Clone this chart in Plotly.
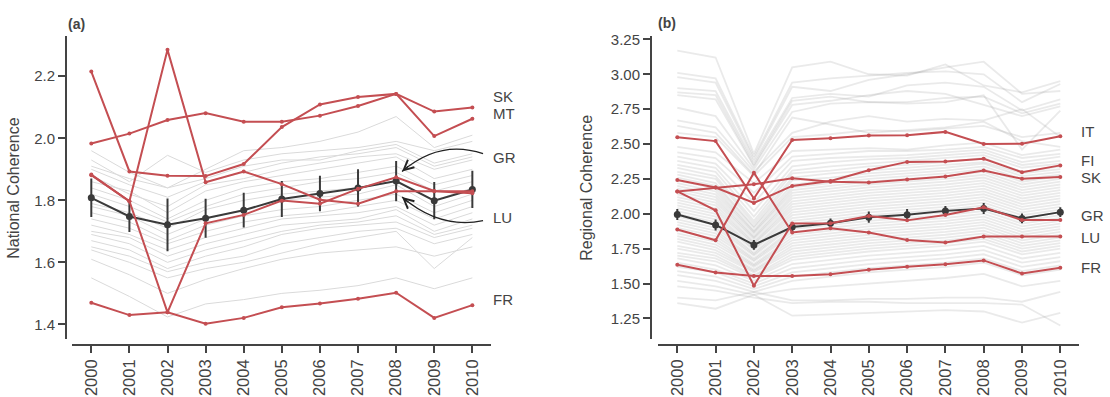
import plotly.graph_objects as go

# ---------------- data ----------------
years = list(range(2000, 2011))
year_labels = [str(y) for y in years]

# (a) national coherence
nat_mean = [1.808, 1.748, 1.721, 1.742, 1.768, 1.804, 1.822, 1.840, 1.862, 1.799, 1.835]
nat_err = [0.062, 0.050, 0.085, 0.063, 0.056, 0.058, 0.057, 0.060, 0.065, 0.060, 0.060]
nat_SK = [1.983, 2.015, 2.059, 2.081, 2.053, 2.053, 2.073, 2.104, 2.143, 2.086, 2.099]
nat_MT = [2.215, 1.893, 1.879, 1.878, 1.917, 2.036, 2.109, 2.133, 2.143, 2.007, 2.063]
nat_GR = [1.881, 1.797, 1.439, 1.726, 1.753, 1.799, 1.789, 1.837, 1.874, 1.830, 1.829]
nat_LU = [1.883, 1.797, 2.285, 1.858, 1.893, 1.852, 1.802, 1.789, 1.829, 1.829, 1.823]
nat_FR = [1.470, 1.430, 1.439, 1.402, 1.421, 1.455, 1.467, 1.483, 1.502, 1.421, 1.462]
nat_names = ["SK", "MT", "GR", "LU", "FR"]

nat_others = [
    [1.96, 1.89, 1.84, 1.90, 1.96, 1.97, 1.99, 2.02, 2.07, 1.97, 2.01],
    [1.93, 1.86, 1.945, 1.89, 1.93, 1.95, 1.96, 1.97, 1.99, 1.96, 1.99],
    [1.91, 1.87, 1.84, 1.87, 1.91, 1.93, 1.93, 1.96, 1.98, 1.92, 1.95],
    [1.90, 1.85, 1.81, 1.86, 1.89, 1.92, 1.94, 1.95, 1.97, 1.91, 1.94],
    [1.88, 1.82, 1.78, 1.85, 1.87, 1.90, 1.92, 1.94, 1.95, 1.90, 1.93],
    [1.86, 1.83, 1.76, 1.83, 1.86, 1.88, 1.90, 1.92, 1.94, 1.87, 1.90],
    [1.84, 1.80, 1.74, 1.80, 1.84, 1.86, 1.87, 1.89, 1.91, 1.85, 1.88],
    [1.82, 1.78, 1.73, 1.78, 1.82, 1.84, 1.86, 1.87, 1.89, 1.83, 1.86],
    [1.79, 1.76, 1.71, 1.77, 1.80, 1.82, 1.83, 1.84, 1.86, 1.80, 1.84],
    [1.78, 1.75, 1.69, 1.74, 1.77, 1.80, 1.81, 1.82, 1.85, 1.78, 1.82],
    [1.76, 1.73, 1.67, 1.72, 1.75, 1.77, 1.78, 1.80, 1.82, 1.76, 1.80],
    [1.74, 1.71, 1.66, 1.70, 1.73, 1.75, 1.76, 1.78, 1.80, 1.74, 1.78],
    [1.72, 1.69, 1.64, 1.68, 1.71, 1.74, 1.75, 1.76, 1.78, 1.72, 1.76],
    [1.70, 1.68, 1.62, 1.66, 1.69, 1.72, 1.73, 1.74, 1.77, 1.70, 1.74],
    [1.69, 1.66, 1.60, 1.64, 1.67, 1.70, 1.72, 1.73, 1.75, 1.69, 1.72],
    [1.67, 1.64, 1.58, 1.62, 1.65, 1.69, 1.71, 1.72, 1.73, 1.68, 1.71],
    [1.65, 1.62, 1.57, 1.60, 1.62, 1.66, 1.68, 1.70, 1.71, 1.66, 1.69],
    [1.64, 1.60, 1.55, 1.58, 1.60, 1.63, 1.66, 1.68, 1.70, 1.58, 1.68],
    [1.61, 1.56, 1.50, 1.545, 1.58, 1.61, 1.63, 1.64, 1.65, 1.62, 1.65],
    [1.55, 1.49, 1.424, 1.466, 1.48, 1.50, 1.51, 1.525, 1.55, 1.515, 1.55],
]

# (b) regional coherence
reg_mean = [1.995, 1.920, 1.777, 1.905, 1.932, 1.976, 1.994, 2.021, 2.038, 1.967, 2.012]
reg_err = [0.040, 0.040, 0.035, 0.035, 0.035, 0.040, 0.040, 0.035, 0.040, 0.035, 0.035]
reg_IT = [2.548, 2.521, 2.110, 2.529, 2.542, 2.561, 2.563, 2.587, 2.501, 2.502, 2.555]
reg_FI = [2.242, 2.188, 2.078, 2.200, 2.235, 2.312, 2.372, 2.374, 2.395, 2.298, 2.347]
reg_SK = [2.160, 2.188, 2.212, 2.254, 2.229, 2.225, 2.245, 2.268, 2.311, 2.251, 2.263]
reg_GR = [2.160, 2.025, 1.485, 1.930, 1.932, 1.984, 1.953, 1.991, 2.047, 1.955, 1.955]
reg_LU = [1.888, 1.810, 2.294, 1.866, 1.897, 1.866, 1.812, 1.795, 1.838, 1.838, 1.838]
reg_FR = [1.635, 1.579, 1.555, 1.555, 1.567, 1.600, 1.621, 1.638, 1.666, 1.572, 1.614]
reg_names = ["IT", "FI", "SK", "GR", "LU", "FR"]

reg_others = [
    [3.17, 3.12, 2.43, 3.05, 3.09, 3.00, 2.99, 3.07, 2.92, 2.87, 2.95],
    [3.01, 2.97, 2.41, 2.94, 2.97, 2.99, 3.01, 3.02, 3.00, 2.80, 2.93],
    [2.98, 2.94, 2.39, 2.91, 2.88, 2.96, 3.00, 3.05, 3.09, 2.86, 2.88],
    [2.90, 2.88, 2.37, 2.83, 2.86, 2.84, 2.92, 2.94, 2.91, 2.74, 2.82],
    [2.87, 2.85, 2.35, 2.81, 2.84, 2.80, 2.80, 2.83, 2.84, 2.72, 2.79],
    [2.85, 2.82, 2.34, 2.78, 2.81, 2.85, 2.88, 2.86, 2.78, 2.70, 2.77],
    [2.76, 2.70, 2.32, 2.73, 2.79, 2.80, 2.79, 2.80, 2.85, 2.46, 2.74],
    [2.67, 2.62, 2.30, 2.58, 2.66, 2.70, 2.66, 2.68, 2.67, 2.75, 2.55],
    [2.63, 2.58, 2.28, 2.69, 2.64, 2.58, 2.60, 2.62, 2.66, 2.52, 2.48],
    [2.58, 2.55, 2.27, 2.55, 2.57, 2.60, 2.59, 2.61, 2.63, 2.55, 2.58],
    [2.48, 2.44, 2.22, 2.45, 2.46, 2.47, 2.46, 2.49, 2.51, 2.42, 2.46],
    [2.44, 2.40, 2.15, 2.41, 2.43, 2.45, 2.45, 2.46, 2.48, 2.40, 2.43],
    [2.41, 2.36, 2.08, 2.38, 2.40, 2.41, 2.42, 2.44, 2.46, 2.37, 2.41],
    [2.38, 2.33, 2.02, 2.34, 2.37, 2.39, 2.40, 2.42, 2.44, 2.35, 2.38],
    [2.35, 2.30, 1.98, 2.31, 2.34, 2.36, 2.38, 2.40, 2.42, 2.33, 2.36],
    [2.33, 2.27, 1.95, 2.29, 2.31, 2.34, 2.35, 2.37, 2.40, 2.30, 2.34],
    [2.30, 2.25, 1.93, 2.26, 2.29, 2.31, 2.33, 2.35, 2.37, 2.29, 2.32],
    [2.28, 2.22, 1.91, 2.24, 2.26, 2.29, 2.31, 2.33, 2.36, 2.27, 2.30],
    [2.26, 2.20, 1.90, 2.21, 2.24, 2.27, 2.29, 2.31, 2.34, 2.25, 2.28],
    [2.24, 2.18, 1.88, 2.19, 2.22, 2.25, 2.27, 2.29, 2.32, 2.23, 2.27],
    [2.22, 2.16, 1.87, 2.17, 2.20, 2.23, 2.25, 2.27, 2.30, 2.21, 2.25],
    [2.20, 2.14, 1.86, 2.15, 2.18, 2.21, 2.23, 2.25, 2.28, 2.19, 2.23],
    [2.18, 2.12, 1.84, 2.13, 2.16, 2.19, 2.21, 2.23, 2.26, 2.17, 2.21],
    [2.16, 2.10, 1.83, 2.11, 2.14, 2.17, 2.19, 2.21, 2.24, 2.15, 2.19],
    [2.14, 2.08, 1.82, 2.09, 2.12, 2.15, 2.17, 2.19, 2.22, 2.13, 2.17],
    [2.12, 2.06, 1.80, 2.07, 2.10, 2.13, 2.15, 2.17, 2.20, 2.11, 2.15],
    [2.10, 2.04, 1.79, 2.05, 2.08, 2.11, 2.13, 2.15, 2.18, 2.09, 2.13],
    [2.08, 2.02, 1.78, 2.03, 2.06, 2.09, 2.11, 2.13, 2.16, 2.07, 2.11],
    [2.06, 2.00, 1.76, 2.01, 2.04, 2.07, 2.09, 2.11, 2.14, 2.05, 2.09],
    [2.04, 1.98, 1.75, 1.99, 2.02, 2.05, 2.07, 2.09, 2.12, 2.03, 2.07],
    [2.02, 1.96, 1.74, 1.97, 2.00, 2.03, 2.05, 2.07, 2.10, 2.01, 2.05],
    [2.00, 1.94, 1.72, 1.95, 1.98, 2.01, 2.03, 2.05, 2.08, 1.99, 2.03],
    [1.98, 1.92, 1.71, 1.93, 1.96, 1.99, 2.01, 2.03, 2.06, 1.97, 2.01],
    [1.96, 1.90, 1.70, 1.91, 1.94, 1.97, 1.99, 2.01, 2.04, 1.95, 1.99],
    [1.94, 1.88, 1.68, 1.89, 1.92, 1.95, 1.97, 1.99, 2.02, 1.93, 1.97],
    [1.92, 1.86, 1.67, 1.87, 1.90, 1.93, 1.95, 1.97, 2.00, 1.91, 1.95],
    [1.90, 1.84, 1.66, 1.85, 1.88, 1.91, 1.93, 1.95, 1.98, 1.89, 1.93],
    [1.88, 1.82, 1.64, 1.83, 1.86, 1.89, 1.91, 1.93, 1.96, 1.87, 1.91],
    [1.86, 1.80, 1.63, 1.81, 1.84, 1.87, 1.89, 1.91, 1.94, 1.85, 1.89],
    [1.84, 1.78, 1.62, 1.79, 1.82, 1.85, 1.87, 1.89, 1.92, 1.83, 1.87],
    [1.82, 1.76, 1.60, 1.77, 1.80, 1.83, 1.85, 1.87, 1.90, 1.81, 1.85],
    [1.80, 1.74, 1.59, 1.75, 1.78, 1.81, 1.83, 1.85, 1.88, 1.79, 1.83],
    [1.77, 1.72, 1.58, 1.73, 1.76, 1.79, 1.81, 1.83, 1.86, 1.77, 1.81],
    [1.75, 1.70, 1.56, 1.71, 1.74, 1.77, 1.79, 1.81, 1.84, 1.75, 1.79],
    [1.72, 1.68, 1.55, 1.69, 1.72, 1.75, 1.77, 1.79, 1.82, 1.73, 1.77],
    [1.70, 1.66, 1.54, 1.67, 1.70, 1.73, 1.75, 1.77, 1.80, 1.71, 1.75],
    [1.68, 1.63, 1.52, 1.64, 1.67, 1.70, 1.72, 1.74, 1.77, 1.68, 1.72],
    [1.65, 1.60, 1.50, 1.61, 1.64, 1.67, 1.69, 1.71, 1.74, 1.65, 1.69],
    [1.62, 1.58, 1.48, 1.58, 1.61, 1.64, 1.66, 1.68, 1.71, 1.62, 1.66],
    [1.59, 1.55, 1.46, 1.55, 1.58, 1.61, 1.63, 1.65, 1.68, 1.59, 1.63],
    [1.56, 1.52, 1.44, 1.52, 1.55, 1.58, 1.60, 1.62, 1.65, 1.56, 1.60],
    [1.52, 1.48, 1.42, 1.46, 1.48, 1.50, 1.52, 1.54, 1.57, 1.48, 1.52],
    [1.40, 1.38, 1.44, 1.38, 1.38, 1.39, 1.39, 1.40, 1.40, 1.37, 1.44],
    [1.36, 1.32, 1.42, 1.27, 1.28, 1.29, 1.30, 1.31, 1.30, 1.22, 1.29],
    [1.48, 1.45, 1.40, 1.36, 1.37, 1.37, 1.36, 1.36, 1.36, 1.35, 1.20],
]

# ---------------- style ----------------
FONT = "Liberation Sans, Arial, sans-serif"
TXT = "#444444"
AX = "#444444"
RED = "#C44E52"
DARK = "#3a3a3a"
W, H = 1110, 397


def px(x):
    return x / W


def py(y):
    return 1 - y / H


fig = go.Figure()

# ---- panel (a) ----
for s in nat_others:
    fig.add_trace(go.Scatter(x=years, y=s, mode="lines", xaxis="x", yaxis="y",
                             line=dict(color="#dadada", width=1), hoverinfo="skip"))
fig.add_trace(go.Scatter(x=years, y=nat_mean, mode="lines+markers", xaxis="x", yaxis="y",
                         line=dict(color=DARK, width=2), marker=dict(size=7, color=DARK),
                         error_y=dict(type="data", array=nat_err, color=DARK, thickness=2, width=0)))
for s in [nat_SK, nat_MT, nat_GR, nat_LU, nat_FR]:
    fig.add_trace(go.Scatter(x=years, y=s, mode="lines+markers", xaxis="x", yaxis="y",
                             line=dict(color=RED, width=2), marker=dict(size=4, color=RED)))

# ---- panel (b) ----
for s in reg_others:
    fig.add_trace(go.Scatter(x=years, y=s, mode="lines", xaxis="x2", yaxis="y2",
                             line=dict(color="rgba(150,150,150,0.2)", width=1.8), hoverinfo="skip"))
fig.add_trace(go.Scatter(x=years, y=reg_mean, mode="lines+markers", xaxis="x2", yaxis="y2",
                         line=dict(color=DARK, width=2), marker=dict(size=7, color=DARK),
                         error_y=dict(type="data", array=reg_err, color=DARK, thickness=2, width=0)))
for s in [reg_IT, reg_FI, reg_SK, reg_GR, reg_LU, reg_FR]:
    fig.add_trace(go.Scatter(x=years, y=s, mode="lines+markers", xaxis="x2", yaxis="y2",
                             line=dict(color=RED, width=2), marker=dict(size=4, color=RED)))

tickfont_x = dict(family=FONT, size=16.5, color=TXT)
tickfont_y = dict(family=FONT, size=15, color=TXT)

ydom = [py(338.5), py(30.7)]
common_x = dict(anchor="free", position=py(344), range=[1999.5, 2010.5],
                tickmode="array", tickvals=years, ticktext=year_labels, tickangle=-90,
                ticks="outside", ticklen=7, tickwidth=2, tickcolor=AX,
                showline=True, linecolor=AX, linewidth=2, showgrid=False, zeroline=False,
                tickfont=tickfont_x)
common_y = dict(anchor="free", domain=ydom, ticks="outside", ticklen=7, tickwidth=2, tickcolor=AX,
                showline=True, linecolor=AX, linewidth=2, showgrid=False, zeroline=False,
                tickfont=tickfont_y)

fig.update_layout(
    width=W, height=H, margin=dict(l=0, r=0, t=0, b=0),
    paper_bgcolor="white", plot_bgcolor="white", showlegend=False,
    xaxis=dict(domain=[px(72.25), px(491.4)], **common_x),
    yaxis=dict(position=px(66), range=[1.3517, 2.3289],
               tickvals=[1.4, 1.6, 1.8, 2.0, 2.2], tickformat=".1f", **common_y),
    xaxis2=dict(domain=[px(658.15), px(1079.45)], **common_x),
    yaxis2=dict(position=px(651), range=[1.1002, 3.2724],
                tickvals=[1.25, 1.5, 1.75, 2.0, 2.25, 2.5, 2.75, 3.0, 3.25], tickformat=".2f", **common_y),
)

ann = []
# axis titles
ann.append(dict(text="National Coherence", x=px(14), y=py(184.6), xref="paper", yref="paper",
                textangle=-90, showarrow=False, xanchor="center", yanchor="middle",
                font=dict(family=FONT, size=16, color=TXT)))
ann.append(dict(text="Regional Coherence", x=px(587), y=py(184.6), xref="paper", yref="paper",
                textangle=-90, showarrow=False, xanchor="center", yanchor="middle",
                font=dict(family=FONT, size=16, color=TXT)))
# panel labels
ann.append(dict(text="<b>(a)</b>", x=px(76), y=py(18), xref="paper", yref="paper", showarrow=False,
                xanchor="center", yanchor="middle", font=dict(family=FONT, size=14, color=TXT)))
ann.append(dict(text="<b>(b)</b>", x=px(667), y=py(17), xref="paper", yref="paper", showarrow=False,
                xanchor="center", yanchor="middle", font=dict(family=FONT, size=14, color=TXT)))

# country labels
nat_label_y = [2.135, 2.080, 1.937, 1.744, 1.479]
for name, yv in zip(nat_names, nat_label_y):
    ann.append(dict(text=name, x=2010.5, y=yv, xref="x", yref="y", showarrow=False,
                    xanchor="left", yanchor="middle", font=dict(family=FONT, size=15, color=TXT)))
reg_label_y = [2.591, 2.384, 2.260, 1.988, 1.828, 1.612]
for name, yv in zip(reg_names, reg_label_y):
    ann.append(dict(text=name, x=2010.5, y=yv, xref="x2", yref="y2", showarrow=False,
                    xanchor="left", yanchor="middle", font=dict(family=FONT, size=15, color=TXT)))


# curved arrows in panel (a) (pixel geometry converted to data coords)
def dx(p):
    return 2000 + (p - 91.3) / 38.1


def dy(p):
    return 2 - (p - 134.3) / 315


shapes = []
arrows = [((483, 150), (440, 135), (402, 168)),
          ((483, 218), (440, 227), (402, 194))]
for (s, c, e) in arrows:
    path = f"M {dx(s[0])},{dy(s[1])} Q {dx(c[0])},{dy(c[1])} {dx(e[0])},{dy(e[1])}"
    shapes.append(dict(type="path", path=path, xref="x", yref="y",
                       line=dict(color="#222222", width=1.3)))
    vx, vy = e[0] - c[0], e[1] - c[1]
    n = (vx * vx + vy * vy) ** 0.5
    ann.append(dict(x=dx(e[0]), y=dy(e[1]), xref="x", yref="y", text="", showarrow=True,
                    ax=-vx / n * 10, ay=-vy / n * 10, arrowhead=5, arrowsize=1.5, arrowwidth=1.3,
                    arrowcolor="#222222", standoff=0, startstandoff=0))

fig.update_layout(annotations=ann, shapes=shapes)

fig.write_html("out.html", config={"displayModeBar": False},
               post_script="document.body.style.margin='0px';")
